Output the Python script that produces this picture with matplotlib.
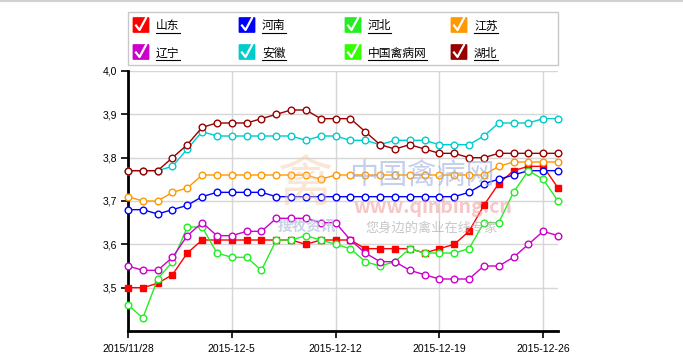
import numpy as np
import matplotlib
matplotlib.use('Agg')
import matplotlib.pyplot as plt
from matplotlib.patches import FancyBboxPatch, Rectangle
from matplotlib.lines import Line2D

plt.rcParams['font.family'] = ['Liberation Sans', 'Noto Sans CJK SC', 'DejaVu Sans']

# days since 2015/11/28
days = list(range(30))
tick_days = [0, 7, 14, 21, 28]
tick_labels = ['2015/11/28', '2015-12-5', '2015-12-12', '2015-12-19', '2015-12-26']
y_ticks = [3.5, 3.6, 3.7, 3.8, 3.9, 4.0]
y_labels = ['3,5', '3,6', '3,7', '3,8', '3,9', '4,0']

names = ['山东', '河南', '河北', '江苏', '辽宁', '安徽', '中国禽病网', '湖北']
colors = ['#ff0000', '#0000ff', '#22ee22', '#ff9900', '#cc00cc', '#00cccc', '#33ff00', '#990000']

shandong = [3.50, 3.50, 3.51, 3.53, 3.58, 3.61, 3.61, 3.61, 3.61, 3.61, 3.61, 3.61, 3.60, 3.61, 3.61,
            3.61, 3.59, 3.59, 3.59, 3.59, 3.58, 3.59, 3.60, 3.63, 3.69, 3.74, 3.77, 3.78, 3.78, 3.73]
henan = [3.68, 3.68, 3.67, 3.68, 3.69, 3.71, 3.72, 3.72, 3.72, 3.72, 3.71, 3.71, 3.71, 3.71, 3.71,
         3.71, 3.71, 3.71, 3.71, 3.71, 3.71, 3.71, 3.71, 3.72, 3.74, 3.75, 3.76, 3.77, 3.77, 3.77]
hebei = [3.46, 3.43, 3.52, 3.56, 3.64, 3.64, 3.58, 3.57, 3.57, 3.54, 3.61, 3.61, 3.62, 3.61, 3.60,
         3.59, 3.56, 3.55, 3.56, 3.59, 3.58, 3.58, 3.58, 3.59, 3.65, 3.65, 3.72, 3.77, 3.75, 3.70]
jiangsu = [3.71, 3.70, 3.70, 3.72, 3.73, 3.76, 3.76, 3.76, 3.76, 3.76, 3.76, 3.76, 3.76, 3.75, 3.76,
           3.76, 3.76, 3.76, 3.76, 3.76, 3.76, 3.76, 3.76, 3.76, 3.76, 3.78, 3.79, 3.79, 3.79, 3.79]
liaoning = [3.55, 3.54, 3.54, 3.57, 3.62, 3.65, 3.62, 3.62, 3.63, 3.63, 3.66, 3.66, 3.66, 3.65, 3.65,
            3.61, 3.58, 3.56, 3.56, 3.54, 3.53, 3.52, 3.52, 3.52, 3.55, 3.55, 3.57, 3.60, 3.63, 3.62]
anhui = [3.77, 3.77, 3.77, 3.78, 3.82, 3.86, 3.85, 3.85, 3.85, 3.85, 3.85, 3.85, 3.84, 3.85, 3.85,
         3.84, 3.84, 3.83, 3.84, 3.84, 3.84, 3.83, 3.83, 3.83, 3.85, 3.88, 3.88, 3.88, 3.89, 3.89]
qinbing = []  # no line shown for this series
hubei = [3.77, 3.77, 3.77, 3.80, 3.83, 3.87, 3.88, 3.88, 3.88, 3.89, 3.90, 3.91, 3.91, 3.89, 3.89,
         3.89, 3.86, 3.83, 3.82, 3.83, 3.82, 3.81, 3.81, 3.80, 3.80, 3.81, 3.81, 3.81, 3.81, 3.81]

series = [shandong, henan, hebei, jiangsu, liaoning, anhui, qinbing, hubei]

W, H = 683, 357
fig = plt.figure(figsize=(W / 100, H / 100), dpi=100)
fig.patch.set_facecolor('white')

def px(x, y):
    # pixel position (from top-left) -> figure fraction
    return x / W, 1 - y / H

ax = fig.add_axes([128 / W, 1 - 331 / H, (558 - 128) / W, (331 - 71) / H])
ax.set_xlim(0, 29)
ax.set_ylim(3.4, 4.0)

# watermark behind the lines
wm_kw = dict(transform=fig.transFigure, zorder=0, family=['Noto Sans CJK SC', 'DejaVu Sans'])
fig.text(*px(305, 185), '禽', fontsize=40, color='#f5c9a0', alpha=0.45, ha='center', va='center', **wm_kw)
fig.text(*px(422, 177), '中国禽病网', fontsize=21, color='#9fb0dd', alpha=0.6, ha='center', va='center', **wm_kw)
fig.text(*px(433, 207), 'www.qinbing.cn', fontsize=14, color='#f3a0a0', alpha=0.6, ha='center', va='center',
         fontweight='bold', **wm_kw)
fig.text(*px(432, 228), '您身边的禽业在线专家', fontsize=9.5, color='#b0b0b0', alpha=0.7, ha='center', va='center', **wm_kw)
fig.text(*px(307, 225), '搜牧资讯', fontsize=10.5, color='#b8c2e0', alpha=0.75, ha='center', va='center',
         fontweight='bold', **wm_kw)

for vals, c in zip(series, colors):
    if not vals:
        continue
    if vals is shandong:
        ax.plot(days, vals, color=c, lw=1, marker='s', ms=4.6, mfc=c, mec=c, clip_on=False, zorder=3)
    else:
        ax.plot(days, vals, color=c, lw=1, marker='o', ms=4.8, mfc='white', mec=c, mew=1,
                clip_on=False, zorder=3)

ax.set_xticks(tick_days)
ax.set_xticklabels(tick_labels, fontsize=7.5)
ax.set_yticks(y_ticks)
ax.set_yticklabels(y_labels, fontsize=7.5)
ax.grid(True, color='#d6d6d6', lw=1)
ax.set_axisbelow(True)
for s in ['top', 'right']:
    ax.spines[s].set_visible(False)
for s in ['left', 'bottom']:
    ax.spines[s].set_linewidth(2)
ax.tick_params(axis='both', length=5, width=1.2, color='black', pad=3)
ax.tick_params(axis='x', pad=4)
ax.patch.set_alpha(0)

# legend with check boxes
fig.add_artist(Rectangle(px(128, 65), 430 / W, 53 / H, transform=fig.transFigure,
                         fill=False, ec='#c8c8c8', lw=1))
col_x = [141, 247, 353, 459]
row_y = [25, 52]
fig.canvas.draw()
renderer = fig.canvas.get_renderer()
for i, (name, c) in enumerate(zip(names, colors)):
    cx, cy = col_x[i % 4], row_y[i // 4]
    fig.add_artist(FancyBboxPatch(px(cx - 7, cy + 7), 14 / W, 14 / H,
                                  boxstyle='round,pad=0.0015', transform=fig.transFigure,
                                  fc=c, ec=c, lw=0.5))
    xs = [cx - 5, cx - 1.5, cx + 5]
    ys = [cy + 0.5, cy + 5, cy - 7]
    fig.add_artist(Line2D([x / W for x in xs], [1 - y / H for y in ys], color='white', lw=1.6,
                          transform=fig.transFigure))
    t = fig.text(*px(cx + 15, cy + 1), name, fontsize=8.5, ha='left', va='center',
                 family=['Noto Sans CJK SC', 'DejaVu Sans'])
    bb = t.get_window_extent(renderer)
    fig.add_artist(Line2D([bb.x0 / W, bb.x1 / W], [1 - (cy + 8) / H] * 2, color='black', lw=0.8,
                          transform=fig.transFigure))

# thin rule at the very top
fig.add_artist(Line2D([0, 1], [1 - 1 / H] * 2, color='#d0d0d0', lw=1.5, transform=fig.transFigure))

fig.savefig('out.png', dpi=100)
